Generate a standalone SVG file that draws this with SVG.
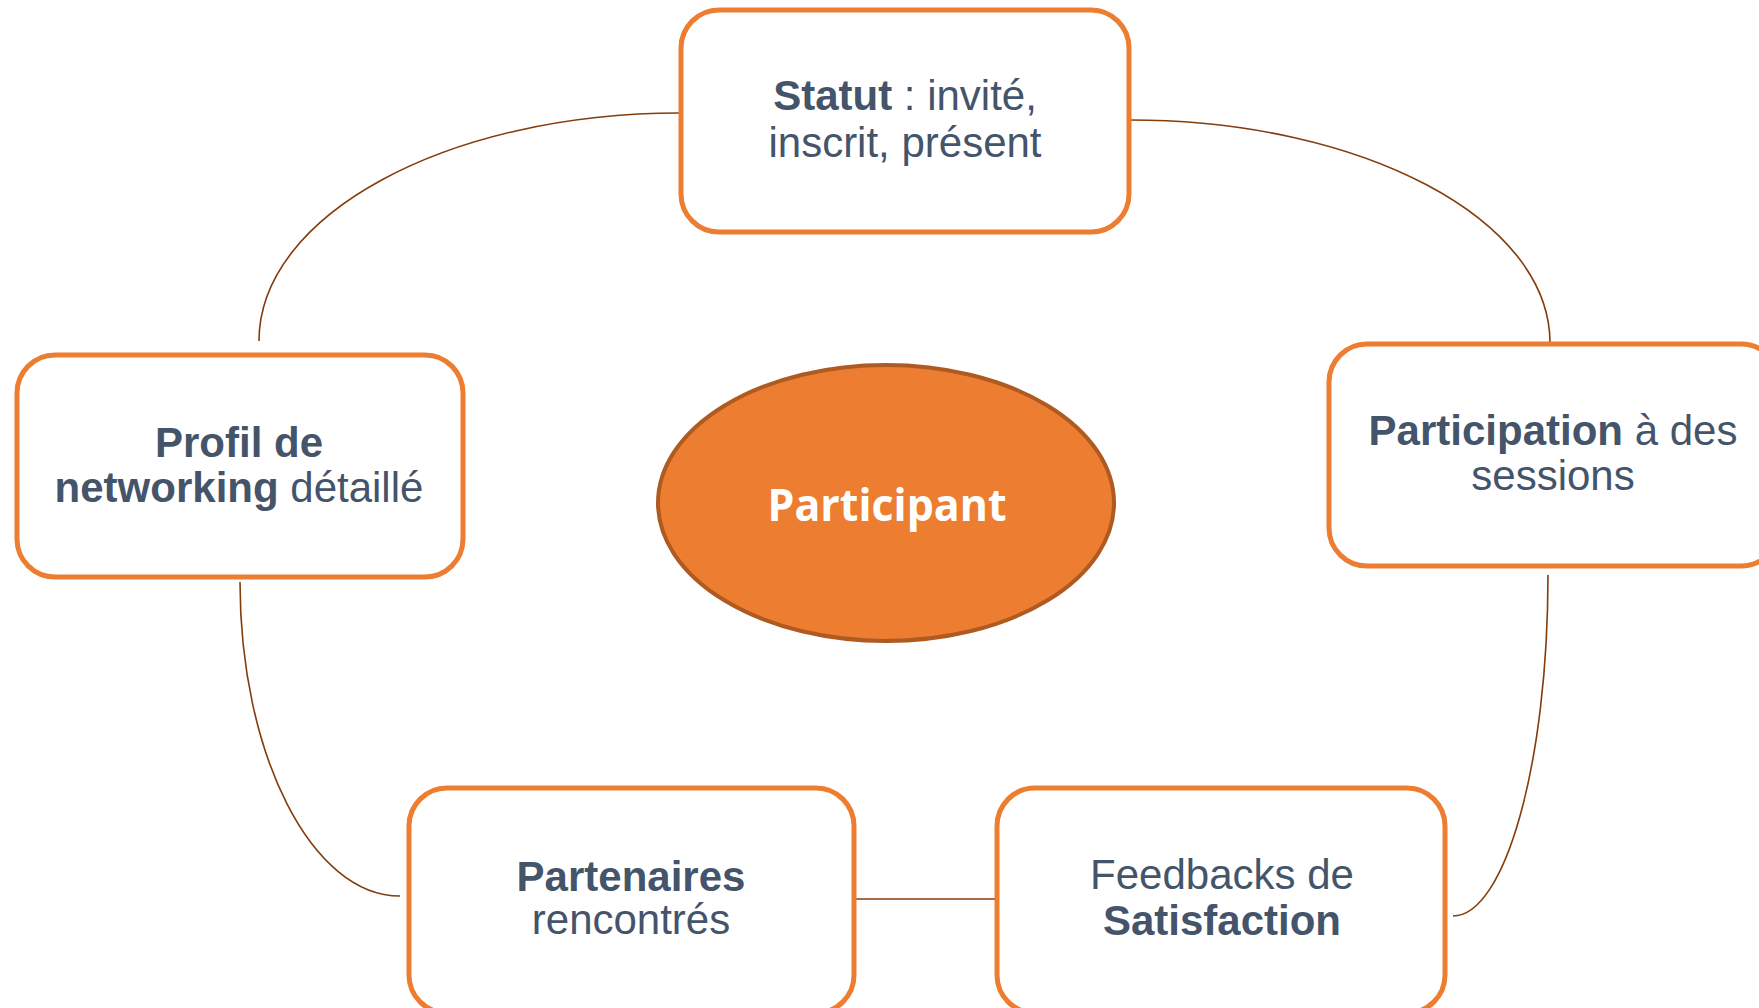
<svg xmlns="http://www.w3.org/2000/svg" width="1759" height="1008" viewBox="0 0 1759 1008">
<style>
.box{fill:#fff;stroke:#ED7D31;stroke-width:5}
.t{font-family:"Liberation Sans",Arial,sans-serif;font-size:42px;fill:#44546A;text-anchor:middle}
.b{font-weight:bold}
.c{fill:none;stroke:#843C0C;stroke-width:1.6}
</style>
<rect width="1759" height="1008" fill="#fff"/>
<g id="connectors">
<path class="c" d="M680,113 C447,113 259,215 259,341"/>
<path class="c" d="M1130,120 C1362,120 1550,219 1550,343"/>
<path class="c" d="M1548,575 C1548,763 1505,916 1453,916"/>
<path class="c" d="M240,582 C240,755 312,896 400,896"/>
<path class="c" d="M854,899 L996,899"/>
</g>
<g id="statut">
<rect class="box" x="681" y="10" width="448" height="222" rx="38"/>
<text class="t" x="905" y="110"><tspan class="b">Statut</tspan> : invité,</text>
<text class="t" x="905" y="157">inscrit, présent</text>
</g>
<g id="profil">
<rect class="box" x="17" y="355" width="446" height="222" rx="38"/>
<text class="t" x="239" y="457"><tspan class="b">Profil de</tspan></text>
<text class="t" x="239" y="502"><tspan class="b">networking</tspan> détaillé</text>
</g>
<g id="participation">
<rect class="box" x="1329" y="344" width="450" height="222" rx="38"/>
<text class="t" x="1553" y="445"><tspan class="b">Participation</tspan> à des</text>
<text class="t" x="1553" y="490">sessions</text>
</g>
<g id="partenaires">
<rect class="box" x="409" y="788" width="445" height="225" rx="38"/>
<text class="t" x="631" y="891"><tspan class="b">Partenaires</tspan></text>
<text class="t" x="631" y="934">rencontrés</text>
</g>
<g id="feedbacks">
<rect class="box" x="997" y="788" width="448" height="225" rx="38"/>
<text class="t" x="1222" y="889">Feedbacks de</text>
<text class="t" x="1222" y="935"><tspan class="b">Satisfaction</tspan></text>
</g>
<g id="participant">
<ellipse cx="886" cy="503" rx="228" ry="138" fill="#ED7D31" stroke="#AE5A21" stroke-width="4"/>
<text x="887" y="521" font-family="'Open Sans',sans-serif" font-weight="bold" font-size="45" fill="#fff" text-anchor="middle" textLength="239" lengthAdjust="spacingAndGlyphs">Participant</text>
</g>
</svg>
